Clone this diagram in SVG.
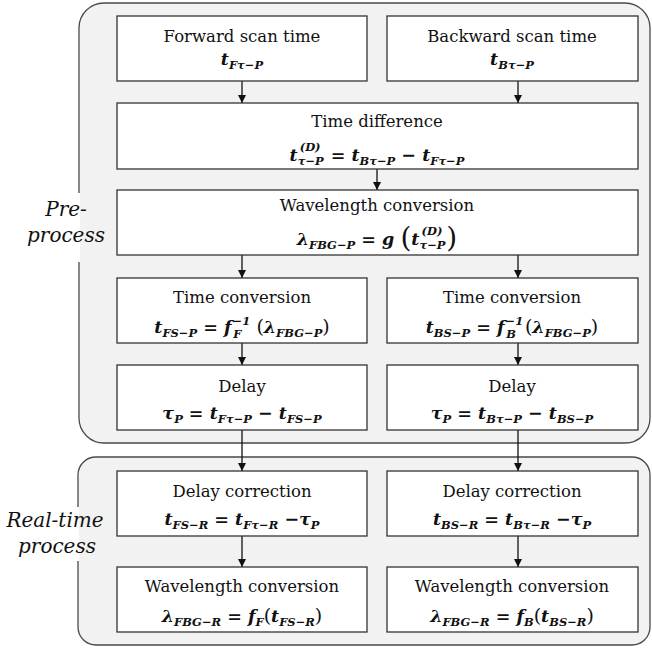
<svg xmlns="http://www.w3.org/2000/svg" width="652" height="650" viewBox="0 0 652 650">
<style>
.bg{fill:#f2f2f2;stroke:#4a4a4a;stroke-width:1.3}
.box{fill:#fff;stroke:#333;stroke-width:1.3}
.t{font-family:"DejaVu Serif","Liberation Serif",serif;font-size:16.5px;text-anchor:middle;fill:#111}
.m{font-family:"DejaVu Serif","Liberation Serif",serif;font-weight:bold;font-style:italic;font-size:17.5px;text-anchor:middle;fill:#111}
.sb{font-size:11.5px}
.op{font-style:normal}
.bp{font-weight:normal;font-style:normal;font-size:19px}
.lab{font-family:"DejaVu Serif","Liberation Serif",serif;font-style:italic;font-size:20px;text-anchor:middle;fill:#111}
.c line{stroke:#111;stroke-width:1.3;marker-end:url(#ah)}
</style>
<defs>
<marker id="ah" viewBox="0 0 8 10" refX="8" refY="5" markerWidth="8" markerHeight="10" markerUnits="userSpaceOnUse" orient="auto">
<path d="M0,1 L8,5 L0,9 z" fill="#111"/>
</marker>
</defs>
<g id="preprocess-group">
<rect class="bg" x="79" y="3" width="571" height="440" rx="25"/>
<rect x="0" y="193" width="80" height="69" fill="#fff"/>
<text class="lab" x="66" y="216">Pre-</text>
<text class="lab" x="66" y="242">process</text>
</g>
<g id="realtime-group">
<rect class="bg" x="78" y="457" width="572" height="188" rx="18"/>
<rect x="0" y="507" width="79" height="54" fill="#fff"/>
<text class="lab" x="55" y="527">Real-time</text>
<text class="lab" x="57" y="553">process</text>
</g>
<g class="c" id="connectors">
<line x1="242" y1="81" x2="242" y2="103"/>
<line x1="518" y1="81" x2="518" y2="103"/>
<line x1="377" y1="169" x2="377" y2="190"/>
<line x1="242" y1="255" x2="242" y2="278"/>
<line x1="518" y1="255" x2="518" y2="278"/>
<line x1="242" y1="343" x2="242" y2="365"/>
<line x1="518" y1="343" x2="518" y2="365"/>
<line x1="242" y1="430" x2="242" y2="471"/>
<line x1="518" y1="430" x2="518" y2="471"/>
<line x1="242" y1="536" x2="242" y2="567"/>
<line x1="518" y1="536" x2="518" y2="567"/>
</g>
<g id="forward">
<rect class="box" x="117" y="16" width="250" height="65"/>
<text class="t" x="242" y="42">Forward scan time</text>
<text class="m" x="242" y="65">t<tspan class="sb" dy="4">Fτ−P</tspan></text>
</g>
<g id="backward">
<rect class="box" x="387" y="16" width="251" height="65"/>
<text class="t" x="512" y="42">Backward scan time</text>
<text class="m" x="512" y="65">t<tspan class="sb" dy="4">Bτ−P</tspan></text>
</g>
<g id="timediff">
<rect class="box" x="117" y="103" width="521" height="66"/>
<text class="t" x="377" y="127">Time difference</text>
<text class="m" x="377" y="161">t<tspan class="sb" dy="4">τ−P</tspan><tspan class="sb" dx="-24" dy="-14">(D)</tspan><tspan class="op" dx="4" dy="10"> = </tspan>t<tspan class="sb" dy="4">Bτ−P</tspan><tspan class="op" dy="-4"> − </tspan>t<tspan class="sb" dy="4">Fτ−P</tspan></text>
</g>
<g id="wlconv-p">
<rect class="box" x="117" y="190" width="521" height="65"/>
<text class="t" x="377" y="211">Wavelength conversion</text>
<text class="m" x="377" y="245">λ<tspan class="sb" dy="4">FBG−P</tspan><tspan class="op" dy="-4"> = </tspan>g <tspan class="op" font-weight="normal" font-size="28" dy="2">(</tspan><tspan dy="-2">t</tspan><tspan class="sb" dy="4">τ−P</tspan><tspan class="sb" dx="-24" dy="-14">(D)</tspan><tspan class="op" font-weight="normal" font-size="28" dx="4" dy="12">)</tspan></text>
</g>
<g id="timeconv-f">
<rect class="box" x="117" y="278" width="250" height="65"/>
<text class="t" x="242" y="303">Time conversion</text>
<text class="m" x="242" y="333">t<tspan class="sb" dy="4">FS−P</tspan><tspan class="op" dy="-4"> = </tspan>f<tspan class="sb" dx="1" dy="-8">−1</tspan><tspan class="sb" dx="-17" dy="13">F</tspan><tspan class="bp" dx="9" dy="-5"> (</tspan>λ<tspan class="sb" dy="4">FBG−P</tspan><tspan class="bp" dy="-4">)</tspan></text>
</g>
<g id="timeconv-b">
<rect class="box" x="387" y="278" width="251" height="65"/>
<text class="t" x="512" y="303">Time conversion</text>
<text class="m" x="512" y="333">t<tspan class="sb" dy="4">BS−P</tspan><tspan class="op" dy="-4"> = </tspan>f<tspan class="sb" dx="1" dy="-8">−1</tspan><tspan class="sb" dx="-17" dy="13">B</tspan><tspan class="bp" dx="9" dy="-5">(</tspan>λ<tspan class="sb" dy="4">FBG−P</tspan><tspan class="bp" dy="-4">)</tspan></text>
</g>
<g id="delay-f">
<rect class="box" x="117" y="365" width="250" height="65"/>
<text class="t" x="242" y="392">Delay</text>
<text class="m" x="242" y="419">τ<tspan class="sb" dy="4">P</tspan><tspan class="op" dy="-4"> = </tspan>t<tspan class="sb" dy="4">Fτ−P</tspan><tspan class="op" dy="-4"> − </tspan>t<tspan class="sb" dy="4">FS−P</tspan></text>
</g>
<g id="delay-b">
<rect class="box" x="387" y="365" width="251" height="65"/>
<text class="t" x="512" y="392">Delay</text>
<text class="m" x="512" y="419">τ<tspan class="sb" dy="4">P</tspan><tspan class="op" dy="-4"> = </tspan>t<tspan class="sb" dy="4">Bτ−P</tspan><tspan class="op" dy="-4"> − </tspan>t<tspan class="sb" dy="4">BS−P</tspan></text>
</g>
<g id="delaycorr-f">
<rect class="box" x="117" y="471" width="250" height="65"/>
<text class="t" x="242" y="497">Delay correction</text>
<text class="m" x="242" y="525">t<tspan class="sb" dy="4">FS−R</tspan><tspan class="op" dy="-4"> =  </tspan>t<tspan class="sb" dy="4">Fτ−R</tspan><tspan class="op" dy="-4"> −</tspan>τ<tspan class="sb" dy="4">P</tspan></text>
</g>
<g id="delaycorr-b">
<rect class="box" x="387" y="471" width="251" height="65"/>
<text class="t" x="512" y="497">Delay correction</text>
<text class="m" x="512" y="525">t<tspan class="sb" dy="4">BS−R</tspan><tspan class="op" dy="-4"> =  </tspan>t<tspan class="sb" dy="4">Bτ−R</tspan><tspan class="op" dy="-4"> −</tspan>τ<tspan class="sb" dy="4">P</tspan></text>
</g>
<g id="wlconv-f">
<rect class="box" x="117" y="567" width="250" height="65"/>
<text class="t" x="242" y="592">Wavelength conversion</text>
<text class="m" x="242" y="622">λ<tspan class="sb" dy="4">FBG−R</tspan><tspan class="op" dy="-4"> = </tspan>f<tspan class="sb" dy="4">F</tspan><tspan class="bp" dy="-4">(</tspan>t<tspan class="sb" dy="4">FS−R</tspan><tspan class="bp" dy="-4">)</tspan></text>
</g>
<g id="wlconv-b">
<rect class="box" x="387" y="567" width="251" height="65"/>
<text class="t" x="512" y="592">Wavelength conversion</text>
<text class="m" x="512" y="622">λ<tspan class="sb" dy="4">FBG−R</tspan><tspan class="op" dy="-4"> = </tspan>f<tspan class="sb" dy="4">B</tspan><tspan class="bp" dy="-4">(</tspan>t<tspan class="sb" dy="4">BS−R</tspan><tspan class="bp" dy="-4">)</tspan></text>
</g>
</svg>
